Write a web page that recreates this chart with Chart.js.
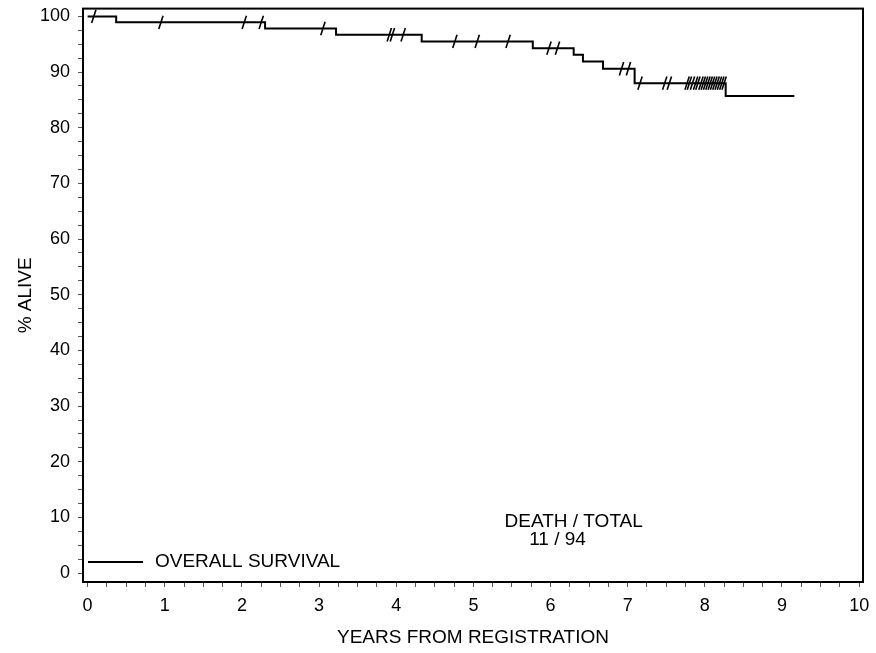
<!DOCTYPE html>
<html><head><meta charset="utf-8">
<script src="https://cdn.jsdelivr.net/npm/chart.js@4.4.0/dist/chart.umd.min.js"></script>
<style>html,body{margin:0;padding:0;background:#fff}canvas{display:block}</style>
</head><body>
<canvas id="km" width="876" height="653"></canvas>
<script>
/* ── DATA ── */
var stepYears=[0,0.37,2.30,3.22,4.33,5.77,6.30,6.42,6.68,7.09,8.27,9.16];
var survPct=[100,98.94,97.83,96.70,95.50,94.30,93.10,91.90,90.60,88.00,85.70,85.70];
var censorYears=[0.08,0.95,2.03,2.25,3.05,3.91,3.95,4.09,4.76,5.05,5.45,5.98,6.09,6.92,7.01,7.16,7.48,7.54,
  7.77,7.80,7.84,7.88,7.91,7.95,7.98,8.01,8.04,8.07,8.10,8.13,8.16,8.19,8.22,8.25];
var xMajor=[0,1,2,3,4,5,6,7,8,9,10];
var yMajor=[0,10,20,30,40,50,60,70,80,90,100];
var FONT='"Liberation Sans", Arial, sans-serif';

function levelAt(t){var v=survPct[0];for(var i=0;i<stepYears.length;i++){if(stepYears[i]<=t)v=survPct[i];}return v;}
var curve=stepYears.map(function(t,i){return{x:t,y:survPct[i]};});
var cens=censorYears.map(function(t){return{x:t,y:levelAt(t)};});

/* ── FRAME, LEGEND, NOTE ── */
var deco={id:'deco',afterDraw:function(c){
  var a=c.chartArea,ctx=c.ctx,xs=c.scales.x,ys=c.scales.y;
  ctx.save();
  ctx.strokeStyle='#000';ctx.lineWidth=2;
  ctx.strokeRect(a.left,a.top,a.right-a.left,a.bottom-a.top);
  ctx.beginPath();ctx.moveTo(a.left+5,a.bottom-20);ctx.lineTo(a.left+60,a.bottom-20);ctx.stroke();
  ctx.fillStyle='#000';ctx.font='19px '+FONT;ctx.textBaseline='middle';
  ctx.fillText('OVERALL SURVIVAL',a.left+72,a.bottom-20);
  ctx.textAlign='center';
  ctx.fillText('DEATH / TOTAL',xs.getPixelForValue(6.30),ys.getPixelForValue(9.3));
  ctx.fillText('11 / 94',xs.getPixelForValue(6.09),ys.getPixelForValue(5.9));
  ctx.restore();
}};

new Chart(document.getElementById('km').getContext('2d'),{
  type:'line',
  data:{datasets:[
    {label:'OVERALL SURVIVAL',data:curve,stepped:true,borderColor:'#000',borderWidth:2,pointRadius:0,fill:false},
    {type:'scatter',label:'censored',data:cens,showLine:false,pointStyle:'line',rotation:-72,pointRadius:7,
     borderColor:'#000',borderWidth:1.6,backgroundColor:'#000'}
  ]},
  options:{
    responsive:false,animation:false,devicePixelRatio:1,
    layout:{padding:{top:7,right:13,left:0,bottom:0}},
    plugins:{legend:{display:false},tooltip:{enabled:false}},
    scales:{
      x:{type:'linear',min:-0.06,max:10.05,
        afterBuildTicks:function(s){var t=[];for(var v=0;v<=10.001;v+=0.25)t.push({value:v});s.ticks=t;},
        afterFit:function(s){s.height=71;s.paddingLeft=0;s.paddingRight=0;},
        ticks:{autoSkip:false,maxRotation:0,padding:8,color:'#000',font:{family:FONT,size:18},
          callback:function(v){return xMajor.indexOf(v)>=0?String(v):'';}},
        grid:{drawOnChartArea:false,drawTicks:true,tickLength:5,color:'#555',lineWidth:1},
        border:{display:true,color:'#000',width:2},
        title:{display:true,text:'YEARS FROM REGISTRATION',color:'#000',font:{family:FONT,size:19},padding:{top:6}}
      },
      y:{type:'linear',min:-1.6,max:101.4,
        afterBuildTicks:function(s){var t=[];for(var v=0;v<=100.001;v+=2.5)t.push({value:v});s.ticks=t;},
        afterFit:function(s){s.width=83;s.paddingTop=0;s.paddingBottom=0;},
        ticks:{autoSkip:false,padding:8,color:'#000',font:{family:FONT,size:18},
          callback:function(v){return yMajor.indexOf(v)>=0?String(v):'';}},
        grid:{drawOnChartArea:false,drawTicks:true,tickLength:5,color:'#555',lineWidth:1},
        border:{display:true,color:'#000',width:2},
        title:{display:true,text:'% ALIVE',color:'#000',font:{family:FONT,size:19},padding:{top:14,bottom:4}}
      }
    }
  },
  plugins:[deco]
});
</script>
</body></html>
